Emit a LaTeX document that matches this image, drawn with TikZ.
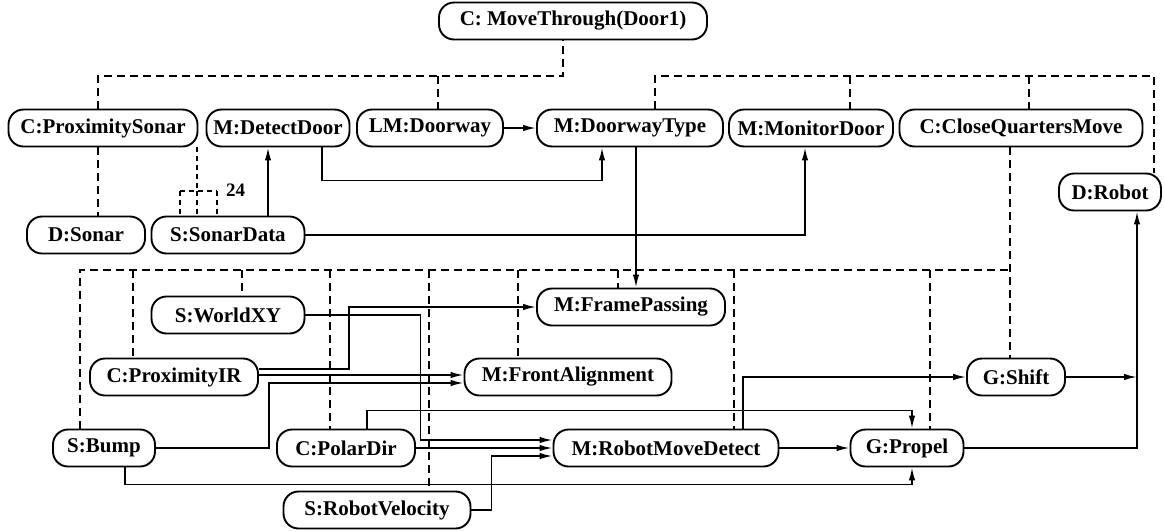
\documentclass[tikz,border=0pt]{standalone}
\usepackage{fontspec}
\setmainfont{Liberation Serif}
\usetikzlibrary{arrows.meta}

\tikzset{
  box/.style={draw, line width=1.9pt, rounded corners=15pt, minimum height=37pt,
              inner sep=0pt, fill=white,
              font=\bfseries\fontsize{21}{21}\selectfont},
  arr/.style={line width=1.7pt, -{Latex[length=13pt,width=6.5pt]}},
  dsh/.style={line width=1.7pt, dash pattern=on 8pt off 5pt},
  fine/.style={line width=1.5pt, dash pattern=on 5pt off 4pt},
}

\begin{document}
\begin{tikzpicture}[x=1pt,y=-1pt]
\useasboundingbox (0,0) rectangle (1165,531);

% ---- behaviour nodes ----
\node[box, minimum width=268pt] (mt)  at (573,21)  {C: MoveThrough(Door1)};

\node[box, minimum width=189pt] (ps)  at (103,128) {C:ProximitySonar};
\node[box, minimum width=143pt] (dd)  at (278,128) {M:DetectDoor};
\node[box, minimum width=146pt] (lm)  at (430,128) {LM:Doorway};
\node[box, minimum width=186pt] (dt)  at (630,128) {M:DoorwayType};
\node[box, minimum width=164pt] (md)  at (811,128) {M:MonitorDoor};
\node[box, minimum width=243pt] (cq)  at (1021,128) {C:CloseQuartersMove};

\node[box, minimum width=102pt] (rob) at (1110,192) {D:Robot};

\node[box, minimum width=118pt] (son) at (86,235)  {D:Sonar};
\node[box, minimum width=153pt] (sd)  at (228,235) {S:SonarData};

\node[box, minimum width=153pt] (wxy) at (228,315) {S:WorldXY};
\node[box, minimum width=188pt] (fp)  at (631,307) {M:FramePassing};

\node[box, minimum width=168pt] (pir) at (174,377) {C:ProximityIR};
\node[box, minimum width=207pt] (fa)  at (568,377) {M:FrontAlignment};
\node[box, minimum width=98pt]  (sh)  at (1016,377) {G:Shift};

\node[box, minimum width=102pt] (bump) at (104,448) {S:Bump};
\node[box, minimum width=138pt] (pd)  at (346,448) {C:PolarDir};
\node[box, minimum width=225pt] (rmd) at (666,448) {M:RobotMoveDetect};
\node[box, minimum width=113pt] (pr)  at (907,448) {G:Propel};

\node[box, minimum width=187pt] (rv)  at (377,510) {S:RobotVelocity};

% ---- upper control tree (dashed) ----
\coordinate (tbL)  at (98,76);
\coordinate (tbM)  at (563,76);
\coordinate (tbD)  at (438,76);
\coordinate (tbR)  at (655,76);
\coordinate (tbMD) at (850,76);
\coordinate (tbCQ) at (1029,76);
\coordinate (tbE)  at (1154,76);

\draw[dsh] ([xshift=-5pt]ps.north) -- (tbL) -- (tbM) -- (tbM |- mt.south);
\draw[dsh] (tbD) -- (tbD |- lm.north);
\draw[dsh] (tbR |- dt.north) -- (tbR) -- (tbE) -- (tbE |- rob.north);
\draw[dsh] (tbMD) -- (tbMD |- md.north);
\draw[dsh] (tbCQ) -- (tbCQ |- cq.north);

% sonar ring under the proximity controller
\draw[dsh] ([xshift=-5pt]ps.south) -- ([xshift=-5pt]ps.south |- son.north);
\coordinate (fanM) at (197,191);
\coordinate (fanL) at (180,191);
\coordinate (fanR) at (217,191);
\draw[fine] (fanM |- ps.south) -- (fanM);
\draw[fine] (fanL) -- (fanR);
\draw[fine] (fanL) -- (fanL |- sd.north);
\draw[fine] (fanM) -- (fanM |- sd.north);
\draw[fine] (fanR) -- (fanR |- sd.north);
\node[font=\bfseries\fontsize{19}{19}\selectfont, anchor=west, inner sep=0pt] (n24) at (226,190) {24};

% ---- lower control tree (dashed) ----
\coordinate (lb0) at (80,270);
\coordinate (lbE) at (1010,270);
\draw[dsh] (lb0 |- bump.north) -- (lb0) -- (lbE);
\draw[dsh] (lbE |- cq.south) -- (lbE |- sh.north);
\foreach \xx/\tgt in {133/pir, 242/wxy, 330/pd, 429/rv, 518/fa, 618/fp, 734/rmd, 930/pr}
  \draw[dsh] (\xx,270) -- (\xx,270 |- \tgt.north);

% ---- data flow (solid) ----
\draw[arr] (lm.east) -- (dt.west);
\draw[arr] ([xshift=44pt]dd.south) -- ++(0,33) -| ([xshift=-28pt]dt.south);
\draw[arr] ([xshift=40pt]sd.north) -- ([xshift=-10pt]dd.south);
\draw[arr] (sd.east) -| ([xshift=-6pt]md.south);
\draw[arr] ([xshift=6pt]dt.south) -- ([xshift=5pt]fp.north);

\draw[arr] ([yshift=8pt]pir.east) -- ++(90,0) |- (fp.west);
\draw[arr] ([yshift=2pt]pir.east) -- ([yshift=2pt]fa.west);
\draw[arr] (bump.east) -- ++(113,0) |- ([yshift=-6pt]fa.west);

\draw[arr] (wxy.east) -- ++(115,0) |- ([yshift=8pt]rmd.west);
\draw[arr] (pd.east) -- (rmd.west);
\draw[arr] (rv.east) -- ++(20,0) |- ([yshift=-8pt]rmd.west);

\draw[arr] ([xshift=21pt]pd.north) -- ++(0,-18) -| ([xshift=5pt]pr.north);
\draw[arr] ([xshift=21pt]bump.south) -- ++(0,17) -| ([xshift=5pt]pr.south);

\draw[arr] (rmd.east) -- (pr.west);
\draw[arr] ([xshift=77pt]rmd.north) |- (sh.west);

\coordinate (rj) at ([xshift=27pt]rob.south);
\draw[arr] (pr.east) -| (rj);
\draw[arr] (sh.east) -- (sh.east -| rj);
\end{tikzpicture}
\end{document}
